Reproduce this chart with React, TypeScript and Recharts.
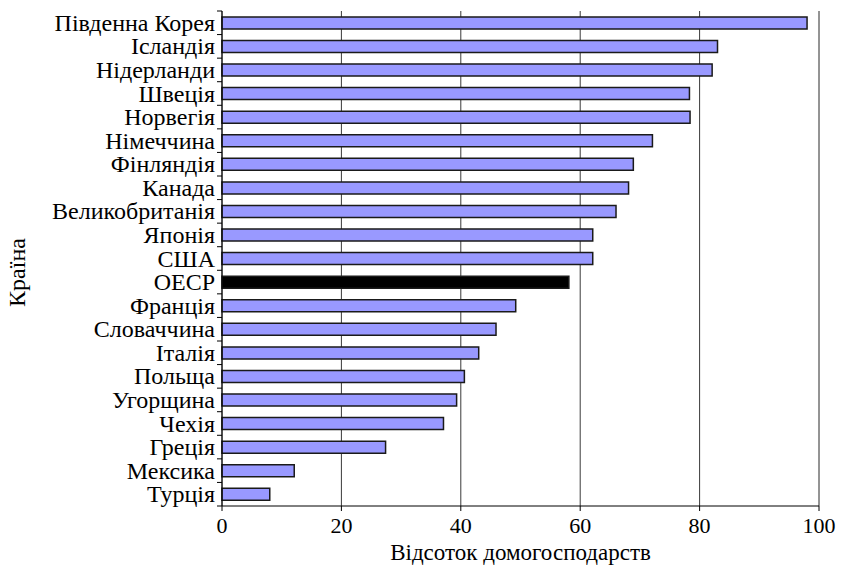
import React from 'react';
import { BarChart, Bar, XAxis, YAxis, CartesianGrid, Cell, ReferenceLine } from 'recharts';

const countries = [
  'Південна Корея', 'Ісландія', 'Нідерланди', 'Швеція', 'Норвегія', 'Німеччина',
  'Фінляндія', 'Канада', 'Великобританія', 'Японія', 'США', 'ОЕСР', 'Франція',
  'Словаччина', 'Італія', 'Польща', 'Угорщина', 'Чехія', 'Греція', 'Мексика', 'Турція',
];
const shares = [
  98.0, 83.0, 82.1, 78.3, 78.4, 72.1, 68.9, 68.1, 66.0, 62.1, 62.1, 58.1, 49.2,
  45.9, 43.0, 40.6, 39.3, 37.1, 27.4, 12.1, 8.0,
];
const highlight = 'ОЕСР';
const xTicks = [0, 20, 40, 60, 80, 100];

const WIDTH = 841;
const HEIGHT = 570;
const MARGIN = { top: 11, right: 22, bottom: 0, left: 0 };
const X_AXIS_H = 64;
const Y_AXIS_W = 222;
const TICK_SIZE = 5;
const TICK_MARGIN = 2;
const FONT = '"Liberation Serif", "Times New Roman", serif';
const BAND = (HEIGHT - MARGIN.top - MARGIN.bottom - X_AXIS_H) / countries.length;

const data = countries.map((c, i) => ({ country: c, share: shares[i] }));

// category labels, with tick marks between bands instead of at centres
function CountryTick(props: any) {
  const { x, y, payload, index } = props;
  const axisX = x + TICK_MARGIN + TICK_SIZE;
  return (
    <g>
      <text x={x} y={y} textAnchor="end" dominantBaseline="central" fontFamily={FONT} fontSize={24} fill="#000">
        {payload.value}
      </text>
      {index === 0 && (
        <line x1={axisX - TICK_SIZE} x2={axisX} y1={y - BAND / 2} y2={y - BAND / 2} stroke="#000" />
      )}
      <line x1={axisX - TICK_SIZE} x2={axisX} y1={y + BAND / 2} y2={y + BAND / 2} stroke="#000" />
    </g>
  );
}

export default function App() {
  return (
    <div style={{ position: 'absolute', left: 0, top: 0, width: WIDTH, height: HEIGHT, background: '#fff' }}>
      <BarChart width={WIDTH} height={HEIGHT} data={data} layout="vertical" margin={MARGIN} barCategoryGap="25%">
        <CartesianGrid horizontal={false} stroke="#3a3a3a" />
        <XAxis
          type="number"
          dataKey="share"
          domain={[0, 100]}
          ticks={xTicks}
          height={X_AXIS_H}
          tickSize={TICK_SIZE}
          tickMargin={6}
          axisLine={{ stroke: '#000' }}
          tickLine={{ stroke: '#000' }}
          tick={{ fill: '#000', fontFamily: FONT, fontSize: 22 }}
          label={{
            content: ({ viewBox }: any) => (
              <text
                x={viewBox.x + viewBox.width / 2}
                y={viewBox.y + 46}
                textAnchor="middle"
                dominantBaseline="central"
                fontFamily={FONT}
                fontSize={23}
                fill="#000"
              >
                Відсоток домогосподарств
              </text>
            ),
          }}
        />
        <XAxis xAxisId="top" orientation="top" type="number" domain={[0, 100]} height={0} tick={false} tickLine={false} axisLine={{ stroke: '#8a8a8a' }} />
        <YAxis
          type="category"
          dataKey="country"
          width={Y_AXIS_W}
          interval={0}
          tickSize={TICK_SIZE}
          tickMargin={TICK_MARGIN}
          tickLine={false}
          axisLine={{ stroke: '#000' }}
          tick={<CountryTick />}
          label={{
            content: ({ viewBox }: any) => {
              const cx = viewBox.x + 17;
              const cy = viewBox.y + viewBox.height / 2 + 14;
              return (
                <text
                  x={cx}
                  y={cy}
                  transform={`rotate(-90 ${cx} ${cy})`}
                  textAnchor="middle"
                  dominantBaseline="central"
                  fontFamily={FONT}
                  fontSize={24}
                  fill="#000"
                >
                  Країна
                </text>
              );
            },
          }}
        />
        <ReferenceLine x={100} stroke="#8a8a8a" />
        <Bar dataKey="share" fill="#9999ff" stroke="#1a1a1a" strokeWidth={1.5} isAnimationActive={false}>
          {data.map((d) => (
            <Cell key={d.country} fill={d.country === highlight ? '#000' : '#9999ff'} />
          ))}
        </Bar>
      </BarChart>
    </div>
  );
}
